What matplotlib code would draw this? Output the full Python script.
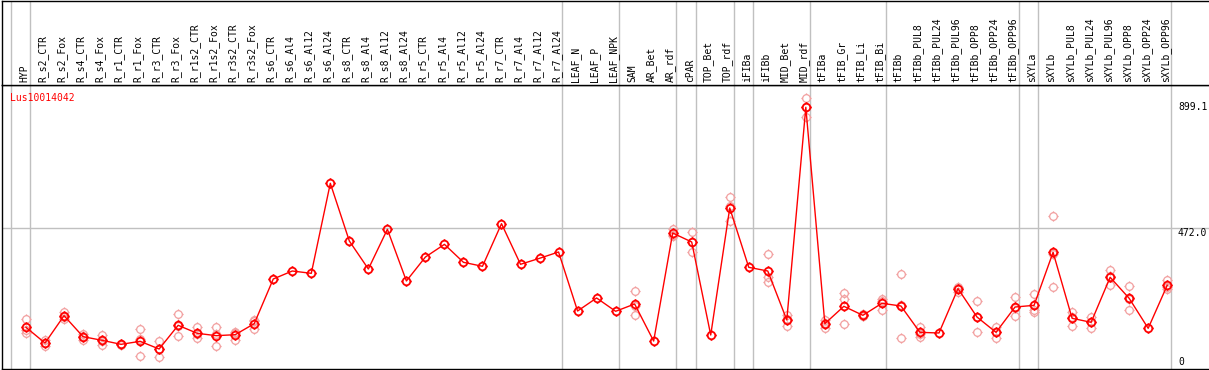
import numpy as np
import matplotlib
matplotlib.use("Agg")
import matplotlib.pyplot as plt
from matplotlib.path import Path
from matplotlib.transforms import ScaledTranslation, blended_transform_factory

nan = np.nan

categories = ["HYP", "R_s2_CTR", "R_s2_Fox", "R_s4_CTR", "R_s4_Fox", "R_r1_CTR", "R_r1_Fox",
              "R_r3_CTR", "R_r3_Fox", "R_r1s2_CTR", "R_r1s2_Fox", "R_r3s2_CTR", "R_r3s2_Fox",
              "R_s6_CTR", "R_s6_Al4", "R_s6_Al12", "R_s6_Al24", "R_s8_CTR", "R_s8_Al4",
              "R_s8_Al12", "R_s8_Al24", "R_r5_CTR", "R_r5_Al4", "R_r5_Al12", "R_r5_Al24",
              "R_r7_CTR", "R_r7_Al4", "R_r7_Al12", "R_r7_Al24", "LEAF_N", "LEAF_P", "LEAF_NPK",
              "SAM", "AR_Bet", "AR_rdf", "cPAR", "TOP_Bet", "TOP_rdf", "iFIBa", "iFIBb",
              "MID_Bet", "MID_rdf", "tFIBa", "tFIB_Gr", "tFIB_Li", "tFIB_Bi", "tFIBb",
              "tFIBb_PUL8", "tFIBb_PUL24", "tFIBb_PUL96", "tFIBb_OPP8", "tFIBb_OPP24",
              "tFIBb_OPP96", "sXYLa", "sXYLb", "sXYLb_PUL8", "sXYLb_PUL24", "sXYLb_PUL96",
              "sXYLb_OPP8", "sXYLb_OPP24", "sXYLb_OPP96"]

mean_values = [122.4, 67, 163.5, 89.4, 76.5, 62.4, 73, 45.9, 129.5, 101.3, 92.9, 96.4, 135.3,
               293, 321.2, 313, 630.8, 427, 328.3, 468.4, 286, 370.6, 415.3, 351.9, 337.8,
               488.2, 344.9, 366, 388.3, 180, 226, 179, 204.7, 74, 455.3, 423.6, 95.3, 543.6,
               334.2, 321.2, 148.3, 899.1, 135.3, 196.6, 164.8, 207.2, 197.7, 104.7, 102.4,
               258.9, 158.8, 104.7, 194.1, 200, 387.2, 154.2, 140.1, 299, 224.8, 118.9, 270.7]

rep_a = [150.6, 77.6, 177.6, 98.8, 96.4, 64, 115.4, 75.2, 169.4, 122.5, 122.5, 107, 143.6,
         nan, nan, nan, nan, nan, nan, nan, nan, nan, nan, nan, nan, nan, nan, nan, nan,
         nan, nan, nan, 249.5, nan, 469.5, 458.9, nan, 582.4, nan, 381.2, 166, 930.8,
         148.3, 242.5, 168, 223.6, 309.6, 124.7, nan, 248.3, 214, 124.7, 230.4, 239, 515.4,
         175.4, 157.8, 323.6, 268.3, nan, 289.4]
rep_b = [103.6, 57.5, 160, 77.6, 60, 60, 22.2, 16.6, 90.7, 83.6, 57.5, 77.7, 115.4,
         nan, nan, nan, nan, nan, nan, nan, nan, nan, nan, nan, nan, nan, nan, nan, nan,
         nan, nan, nan, 166, nan, 446, 387, nan, 499, nan, 282.4, 128, 866,
         119, 221.3, 162, 182.6, 83.6, 89.4, nan, 262, 104.7, 83.6, 162.4, 177.6, 263.7,
         128.1, 121.1, 270.7, 182.5, nan, 256.6]
rep_c = [113, 66, 153, 92, 73, 63, 81, 46, 128, 98, 99, 104, 147,
         nan, nan, nan, nan, nan, nan, nan, nan, nan, nan, nan, nan, nan, nan, nan, nan,
         nan, nan, nan, 198, nan, 450, 425, nan, 549, nan, 300, 151, 900.5,
         139, 133, 164, 215, 200, 100, nan, 266, 158, 106, 190, 183, 382,
         159, 141, 302, 223, nan, 266]

group_ends = [-1, 0, 28, 31, 34, 35, 37, 38, 41, 45, 52, 53, 60]
y_labels = [0, 472.0, 899.1]
gene = "Lus10014042"

W, H = 1209, 370
fig = plt.figure(figsize=(W / 100, H / 100), dpi=100)

def fx(px):
    return px / W

def fy(px_from_top):
    return 1 - px_from_top / H

# pixel mapping: x_px = 26 + 19.02 * i ; y_px = 362 - 0.2833 * v
left_px, right_px = 2, 1209
top_px, bot_px = 85, 369
xl = ((left_px - 26) / 19.02, (right_px - 26) / 19.02)
yl = ((362 - bot_px) / 0.2833, (362 - top_px) / 0.2833)

ax = fig.add_axes([fx(left_px), fy(bot_px), fx(right_px - left_px), (bot_px - top_px) / H])
hax = fig.add_axes([fx(left_px), fy(top_px), fx(right_px - left_px), (top_px - 0.5) / H])

mono = "DejaVu Sans Mono"
fs = 7.0
grey = "#c0c0c0"

for a in (ax, hax):
    a.set_xlim(*xl)
    a.set_xticks([])
    a.set_yticks([])
    for s in ("left", "top", "bottom"):
        a.spines[s].set_color("black")
        a.spines[s].set_linewidth(1.0)
    a.spines["right"].set_visible(False)
    for g in group_ends:
        a.axvline(g + 0.2, color=grey, lw=1.0, zorder=1)
ax.set_ylim(*yl)
hax.set_ylim(0, 1)

ax.axhline(472.0, color=grey, lw=1.0, zorder=1)

# custom marker: circle with four small ticks
circ = Path.unit_circle()
r0, r1 = 1.0, 1.35
tick_verts = [(0, r0), (0, r1), (0, -r0), (0, -r1), (r0, 0), (r1, 0), (-r0, 0), (-r1, 0)]
tick_codes = [Path.MOVETO, Path.LINETO] * 4
ticks = Path(tick_verts, tick_codes)
marker = Path.make_compound_path(circ, ticks)

x = np.arange(len(categories))
pink = "#f2a0a0"
msize = 7.4
for reps in (rep_a, rep_b, rep_c):
    ax.plot(x, reps, linestyle="none", marker=marker, markersize=msize,
            markerfacecolor="none", markeredgecolor=pink, markeredgewidth=0.9, zorder=2)

ax.plot(x, mean_values, color="#ff0000", lw=1.0, zorder=3)
ax.plot(x, mean_values, linestyle="none", marker=marker, markersize=msize,
        markerfacecolor="none", markeredgecolor="#ff0000", markeredgewidth=1.3, zorder=4)

# category labels
off = ScaledTranslation(-2 / 100, 0, fig.dpi_scale_trans)
for i, c in enumerate(categories):
    hax.text(i, 0.03, c, rotation=90, ha="center", va="bottom", fontsize=fs,
             family=mono, transform=hax.transData + off)

# gene label
ax.annotate(gene, xy=(0, 1), xycoords="axes fraction", xytext=(8, -8),
            textcoords="offset pixels", ha="left", va="top", color="#ff0000",
            fontsize=fs, family=mono)

# value labels on the right
tr = blended_transform_factory(fig.transFigure, ax.transData)
ax.text(fx(1178), 899.1, "899.1", ha="left", va="center", fontsize=fs, family=mono,
        transform=tr, clip_on=False)
ax.text(fx(1178), 472.0, "472.0", ha="left", va="top", fontsize=fs, family=mono,
        transform=tr, clip_on=False)
ax.text(fx(1178), 0, "0", ha="left", va="center", fontsize=fs, family=mono,
        transform=tr, clip_on=False)

fig.savefig("out.png", dpi=100, facecolor="white")
